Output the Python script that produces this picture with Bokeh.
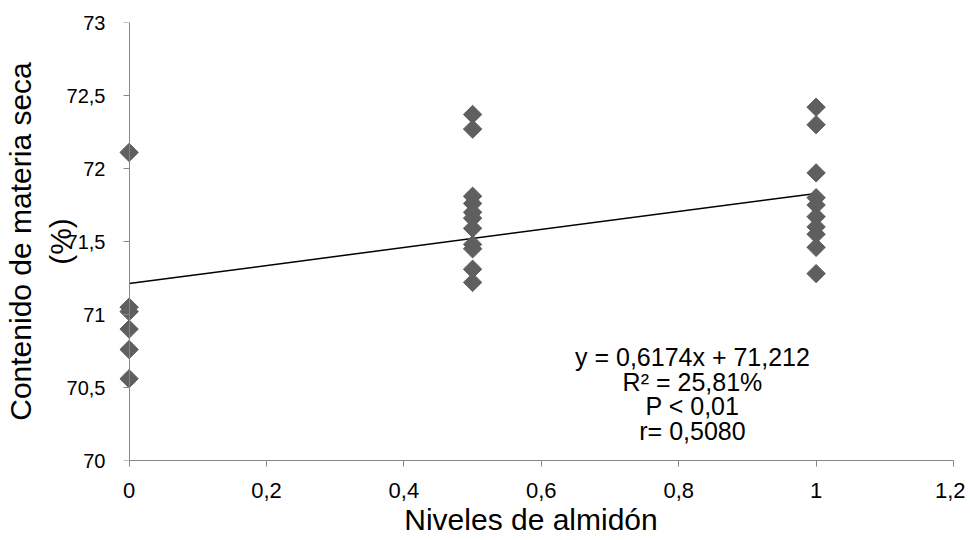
import math
from bokeh.plotting import figure
from bokeh.models import FixedTicker, Label, ColumnDataSource, LinearAxis
from bokeh.embed import file_html
from bokeh.resources import INLINE

# Data
x0_vals = [72.11, 71.05, 71.02, 70.90, 70.76, 70.56]
x05_vals = [72.37, 72.27, 71.81, 71.76, 71.70, 71.66, 71.59, 71.48, 71.45, 71.31, 71.22]
x1_vals = [72.42, 72.30, 71.97, 71.80, 71.75, 71.67, 71.60, 71.55, 71.46, 71.28]
levels = [0.0, 0.5, 1.0]
slope = 0.6174
intercept = 71.212
x_ticks = [0, 0.2, 0.4, 0.6, 0.8, 1.0, 1.2]
x_tick_labels = ["0", "0,2", "0,4", "0,6", "0,8", "1", "1,2"]
y_ticks = [70, 70.5, 71, 71.5, 72, 72.5, 73]
y_tick_labels = ["70", "70,5", "71", "71,5", "72", "72,5", "73"]
annot_lines = ["y = 0,6174x + 71,212", "R² = 25,81%", "P < 0,01", "r= 0,5080"]

xs, ys = [], []
for lvl, vals in zip(levels, [x0_vals, x05_vals, x1_vals]):
    xs += [lvl] * len(vals)
    ys += vals

FONT = "Liberation Sans"
AX = "#868686"

p = figure(width=965, height=540, x_range=(-0.03, 1.2), y_range=(70, 73),
           output_backend="svg", toolbar_location=None,
           min_border_left=107, min_border_right=12, min_border_top=22, min_border_bottom=80)
p.outline_line_color = None
p.xgrid.grid_line_color = None
p.ygrid.grid_line_color = None
p.background_fill_color = "white"
p.border_fill_color = "white"

# x axis
xa = p.xaxis[0]
xa.axis_line_color = AX
xa.major_tick_line_color = AX
xa.minor_tick_line_color = None
xa.major_tick_in = 0
xa.major_tick_out = 6
xa.ticker = FixedTicker(ticks=x_ticks)
xa.major_label_overrides = {t: l for t, l in zip(x_ticks, x_tick_labels)}
xa.bounds = (0, 1.2)
xa.major_label_text_font = FONT
xa.major_label_text_font_size = "22px"
xa.major_label_text_color = "black"
xa.major_label_standoff = 16
xa.axis_label = "Niveles de almidón"
xa.axis_label_text_font = FONT
xa.axis_label_text_font_size = "30px"
xa.axis_label_text_font_style = "normal"
xa.axis_label_text_color = "black"
xa.axis_label_text_line_height = 1.0
xa.axis_label_standoff = 2

# y axis: labels and title in the left panel (no line / ticks)
ya = p.yaxis[0]
ya.ticker = FixedTicker(ticks=y_ticks)
ya.major_label_overrides = {t: l for t, l in zip(y_ticks, y_tick_labels)}
ya.axis_line_color = None
ya.major_tick_line_color = None
ya.minor_tick_line_color = None
ya.major_tick_in = 0
ya.major_tick_out = 0
ya.major_label_text_font = FONT
ya.major_label_text_font_size = "20px"
ya.major_label_text_color = "black"
ya.major_label_standoff = 3
ya.axis_label = "Contenido de materia seca\n(%)"
ya.axis_label_text_font = FONT
ya.axis_label_text_font_size = "30px"
ya.axis_label_text_font_style = "normal"
ya.axis_label_text_color = "black"
ya.axis_label_standoff = -13

# y axis line and ticks located at x = 0
ya2 = LinearAxis(fixed_location=0, ticker=FixedTicker(ticks=y_ticks),
                 axis_line_color=AX, major_tick_line_color=AX, minor_tick_line_color=None,
                 major_tick_in=6, major_tick_out=0, major_label_text_font_size="0px",
                 major_label_standoff=0, major_label_text_color=None)
p.add_layout(ya2, "right")

# trend line
lx = [levels[0], levels[-1]]
ly = [intercept + slope * v for v in lx]
p.line(lx, ly, line_color="black", line_width=1.5)

src = ColumnDataSource(dict(x=xs, y=ys))
p.scatter("x", "y", source=src, marker="square", angle=math.pi / 4, size=13,
          fill_color="#5f5f5f", line_color="#5f5f5f")

line_y = [70.71, 70.535, 70.37, 70.2]
for txt, yy in zip(annot_lines, line_y):
    p.add_layout(Label(x=0.82, y=yy, text=txt, text_align="center", text_baseline="middle",
                       text_font=FONT, text_font_size="25px", text_color="black"))

open("out.html", "w").write(file_html(p, INLINE))
